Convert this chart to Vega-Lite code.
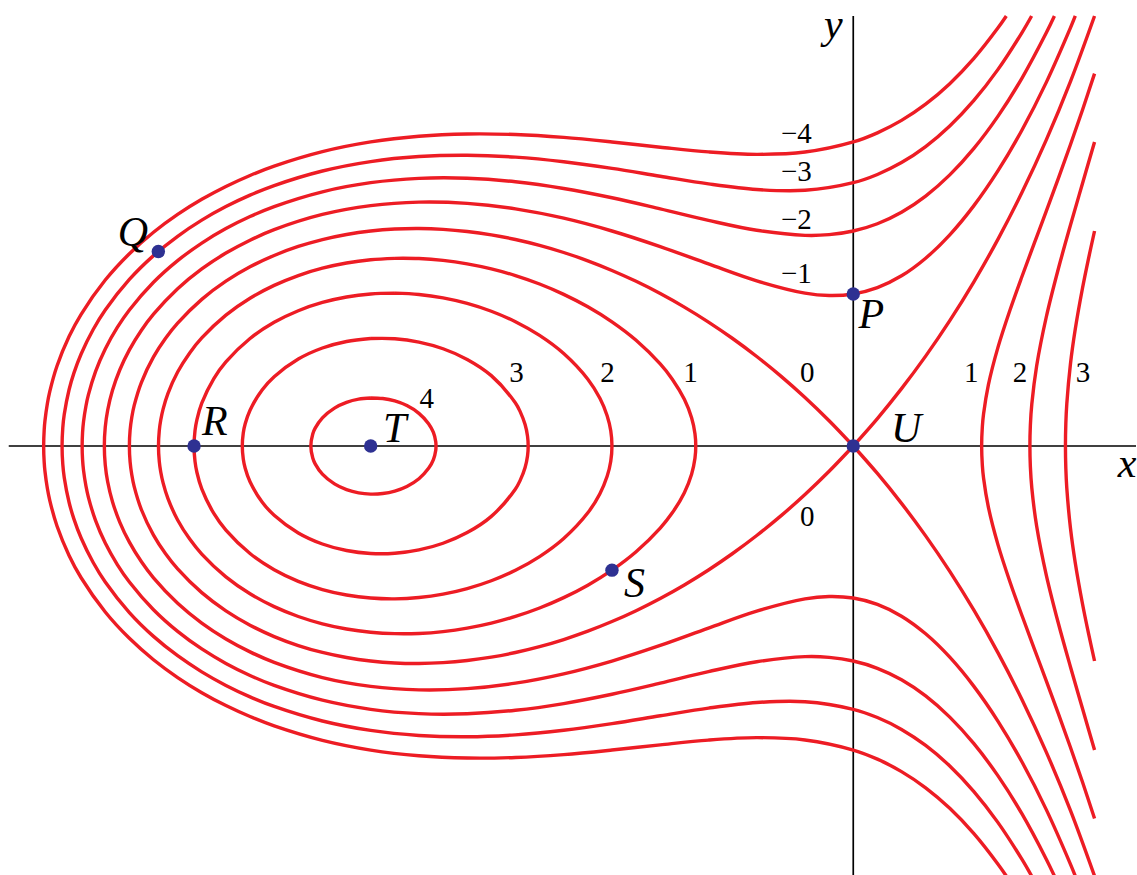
{
"$schema":"https://vega.github.io/schema/vega-lite/v6.json",
"width":1137,"height":875,
"autosize":{"type":"fit","contains":"padding"},
"padding":0,
"background":"white",
"config":{"view":{"stroke":null}},
"datasets":{
"ax":[{"x":-3.5,"x2":1.18,"y":0,"y2":0},{"x":0,"x2":0,"y":-2.0,"y2":2.0}],
"pts":[{"n":"P","x":0,"y":0.7071},{"n":"Q","x":-2.88,"y":0.9048},{"n":"R","x":-2.732,"y":0},{"n":"S","x":-1,"y":-0.5774},{"n":"T","x":-2,"y":0},{"n":"U","x":0,"y":0}],
"letters":[{"t":"Q","x":-2.9855,"y":0.9302},{"t":"R","x":-2.646,"y":0.0512},{"t":"T","x":-1.9006,"y":0.0186},{"t":"U","x":0.2195,"y":0.0186},{"t":"P","x":0.0745,"y":0.5488},{"t":"S","x":-0.9068,"y":-0.7023},{"t":"x","x":1.1346,"y":-0.1442},{"t":"y","x":-0.0828,"y":1.8977}],
"nums":[{"t":"4","x":-1.7681,"y":0.1767},{"t":"3","x":-1.3954,"y":0.2977},{"t":"2","x":-1.0186,"y":0.2977},{"t":"1","x":-0.6749,"y":0.2977},{"t":"0","x":-0.1905,"y":0.2977},{"t":"0","x":-0.1905,"y":-0.3721},{"t":"1","x":0.4886,"y":0.2977},{"t":"2","x":0.6915,"y":0.2977},{"t":"3","x":0.9524,"y":0.2977},{"t":"−4","x":-0.236,"y":1.4093},{"t":"−3","x":-0.236,"y":1.2326},{"t":"−2","x":-0.236,"y":1.0093},{"t":"−1","x":-0.236,"y":0.7581}],
"cv":[
{"c":"c38","i":0,"x":-2,"y":0.2236},{"c":"c38","i":1,"x":-1.95,"y":0.2208},{"c":"c38","i":2,"x":-1.9,"y":0.2094},{"c":"c38","i":3,"x":-1.85,"y":0.188},{"c":"c38","i":4,"x":-1.8,"y":0.152},{"c":"c38","i":5,"x":-1.76,"y":0.104},{"c":"c38","i":6,"x":-1.74,"y":0.063},{"c":"c38","i":7,"x":-1.7303,"y":0.0194},{"c":"c38","i":8,"x":-1.7293,"y":0},{"c":"c38","i":9,"x":-1.7303,"y":-0.0194},{"c":"c38","i":10,"x":-1.74,"y":-0.063},{"c":"c38","i":11,"x":-1.76,"y":-0.104},{"c":"c38","i":12,"x":-1.8,"y":-0.152},{"c":"c38","i":13,"x":-1.85,"y":-0.188},{"c":"c38","i":14,"x":-1.9,"y":-0.2094},{"c":"c38","i":15,"x":-1.95,"y":-0.2208},{"c":"c38","i":16,"x":-2,"y":-0.2236},{"c":"c38","i":17,"x":-2.05,"y":-0.218},{"c":"c38","i":18,"x":-2.1,"y":-0.203},{"c":"c38","i":19,"x":-2.15,"y":-0.1764},{"c":"c38","i":20,"x":-2.2,"y":-0.131},{"c":"c38","i":21,"x":-2.23,"y":-0.083},{"c":"c38","i":22,"x":-2.24,"y":-0.056},{"c":"c38","i":23,"x":-2.248,"y":0},{"c":"c38","i":24,"x":-2.24,"y":0.056},{"c":"c38","i":25,"x":-2.23,"y":0.083},{"c":"c38","i":26,"x":-2.2,"y":0.131},{"c":"c38","i":27,"x":-2.15,"y":0.1764},{"c":"c38","i":28,"x":-2.1,"y":0.203},{"c":"c38","i":29,"x":-2.05,"y":0.218},{"c":"c38","i":30,"x":-2,"y":0.2236},

{"c":"c3","i":0,"x":-2,"y":0.5},{"c":"c3","i":1,"x":-1.9,"y":0.499},{"c":"c3","i":2,"x":-1.8,"y":0.4834},{"c":"c3","i":3,"x":-1.7,"y":0.4523},{"c":"c3","i":4,"x":-1.6,"y":0.4028},{"c":"c3","i":5,"x":-1.5,"y":0.3273},{"c":"c3","i":6,"x":-1.4,"y":0.2},{"c":"c3","i":7,"x":-1.38,"y":0.1587},{"c":"c3","i":8,"x":-1.36,"y":0.0996},{"c":"c3","i":9,"x":-1.35,"y":0.046},{"c":"c3","i":10,"x":-1.3472,"y":0},{"c":"c3","i":11,"x":-1.35,"y":-0.046},{"c":"c3","i":12,"x":-1.36,"y":-0.0996},{"c":"c3","i":13,"x":-1.38,"y":-0.1587},{"c":"c3","i":14,"x":-1.4,"y":-0.2},{"c":"c3","i":15,"x":-1.5,"y":-0.3273},{"c":"c3","i":16,"x":-1.6,"y":-0.4028},{"c":"c3","i":17,"x":-1.7,"y":-0.4523},{"c":"c3","i":18,"x":-1.8,"y":-0.4834},{"c":"c3","i":19,"x":-1.9,"y":-0.499},{"c":"c3","i":20,"x":-2,"y":-0.5},{"c":"c3","i":21,"x":-2.1,"y":-0.4861},{"c":"c3","i":22,"x":-2.2,"y":-0.4557},{"c":"c3","i":23,"x":-2.3,"y":-0.4043},{"c":"c3","i":24,"x":-2.4,"y":-0.3219},{"c":"c3","i":25,"x":-2.45,"y":-0.2603},{"c":"c3","i":26,"x":-2.5,"y":-0.1667},{"c":"c3","i":27,"x":-2.52,"y":-0.1033},{"c":"c3","i":28,"x":-2.528,"y":-0.0604},{"c":"c3","i":29,"x":-2.532,"y":0},{"c":"c3","i":30,"x":-2.528,"y":0.0604},{"c":"c3","i":31,"x":-2.52,"y":0.1033},{"c":"c3","i":32,"x":-2.5,"y":0.1667},{"c":"c3","i":33,"x":-2.45,"y":0.2603},{"c":"c3","i":34,"x":-2.4,"y":0.3219},{"c":"c3","i":35,"x":-2.3,"y":0.4043},{"c":"c3","i":36,"x":-2.2,"y":0.4557},{"c":"c3","i":37,"x":-2.1,"y":0.4861},{"c":"c3","i":38,"x":-2,"y":0.5},

{"c":"c2","i":0,"x":-1.9,"y":0.7109},{"c":"c2","i":1,"x":-1.8,"y":0.7049},{"c":"c2","i":2,"x":-1.7,"y":0.6891},{"c":"c2","i":3,"x":-1.6,"y":0.6633},{"c":"c2","i":4,"x":-1.5,"y":0.6268},{"c":"c2","i":5,"x":-1.4,"y":0.578},{"c":"c2","i":6,"x":-1.3,"y":0.5143},{"c":"c2","i":7,"x":-1.2,"y":0.4301},{"c":"c2","i":8,"x":-1.1,"y":0.3106},{"c":"c2","i":9,"x":-1.05,"y":0.2217},{"c":"c2","i":10,"x":-1.02,"y":0.141},{"c":"c2","i":11,"x":-1.005,"y":0.0707},{"c":"c2","i":12,"x":-1,"y":0},{"c":"c2","i":13,"x":-1.005,"y":-0.0707},{"c":"c2","i":14,"x":-1.02,"y":-0.141},{"c":"c2","i":15,"x":-1.05,"y":-0.2217},{"c":"c2","i":16,"x":-1.1,"y":-0.3106},{"c":"c2","i":17,"x":-1.2,"y":-0.4301},{"c":"c2","i":18,"x":-1.3,"y":-0.5143},{"c":"c2","i":19,"x":-1.4,"y":-0.578},{"c":"c2","i":20,"x":-1.5,"y":-0.6268},{"c":"c2","i":21,"x":-1.6,"y":-0.6633},{"c":"c2","i":22,"x":-1.7,"y":-0.6891},{"c":"c2","i":23,"x":-1.8,"y":-0.7049},{"c":"c2","i":24,"x":-1.9,"y":-0.7109},{"c":"c2","i":25,"x":-2,"y":-0.7071},{"c":"c2","i":26,"x":-2.1,"y":-0.693},{"c":"c2","i":27,"x":-2.2,"y":-0.6676},{"c":"c2","i":28,"x":-2.3,"y":-0.6293},{"c":"c2","i":29,"x":-2.4,"y":-0.5753},{"c":"c2","i":30,"x":-2.5,"y":-0.5},{"c":"c2","i":31,"x":-2.6,"y":-0.3912},{"c":"c2","i":32,"x":-2.65,"y":-0.3138},{"c":"c2","i":33,"x":-2.7,"y":-0.1995},{"c":"c2","i":34,"x":-2.72,"y":-0.1232},{"c":"c2","i":35,"x":-2.728,"y":-0.0716},{"c":"c2","i":36,"x":-2.732,"y":0},{"c":"c2","i":37,"x":-2.728,"y":0.0716},{"c":"c2","i":38,"x":-2.72,"y":0.1232},{"c":"c2","i":39,"x":-2.7,"y":0.1995},{"c":"c2","i":40,"x":-2.65,"y":0.3138},{"c":"c2","i":41,"x":-2.6,"y":0.3912},{"c":"c2","i":42,"x":-2.5,"y":0.5},{"c":"c2","i":43,"x":-2.4,"y":0.5753},{"c":"c2","i":44,"x":-2.3,"y":0.6293},{"c":"c2","i":45,"x":-2.2,"y":0.6676},{"c":"c2","i":46,"x":-2.1,"y":0.693},{"c":"c2","i":47,"x":-2,"y":0.7071},{"c":"c2","i":48,"x":-1.9,"y":0.7109},

{"c":"c1","i":0,"x":-1.9,"y":0.8728},{"c":"c1","i":1,"x":-1.8,"y":0.8718},{"c":"c1","i":2,"x":-1.7,"y":0.8632},{"c":"c1","i":3,"x":-1.6,"y":0.8472},{"c":"c1","i":4,"x":-1.5,"y":0.8238},{"c":"c1","i":5,"x":-1.4,"y":0.7926},{"c":"c1","i":6,"x":-1.3,"y":0.7534},{"c":"c1","i":7,"x":-1.2,"y":0.7053},{"c":"c1","i":8,"x":-1.1,"y":0.6473},{"c":"c1","i":9,"x":-1,"y":0.5774},{"c":"c1","i":10,"x":-0.9,"y":0.4917},{"c":"c1","i":11,"x":-0.8,"y":0.3817},{"c":"c1","i":12,"x":-0.75,"y":0.3108},{"c":"c1","i":13,"x":-0.7,"y":0.2169},{"c":"c1","i":14,"x":-0.67,"y":0.1311},{"c":"c1","i":15,"x":-0.656,"y":0.0573},{"c":"c1","i":16,"x":-0.6527,"y":0},{"c":"c1","i":17,"x":-0.656,"y":-0.0573},{"c":"c1","i":18,"x":-0.67,"y":-0.1311},{"c":"c1","i":19,"x":-0.7,"y":-0.2169},{"c":"c1","i":20,"x":-0.75,"y":-0.3108},{"c":"c1","i":21,"x":-0.8,"y":-0.3817},{"c":"c1","i":22,"x":-0.9,"y":-0.4917},{"c":"c1","i":23,"x":-1,"y":-0.5774},{"c":"c1","i":24,"x":-1.1,"y":-0.6473},{"c":"c1","i":25,"x":-1.2,"y":-0.7053},{"c":"c1","i":26,"x":-1.3,"y":-0.7534},{"c":"c1","i":27,"x":-1.4,"y":-0.7926},{"c":"c1","i":28,"x":-1.5,"y":-0.8238},{"c":"c1","i":29,"x":-1.6,"y":-0.8472},{"c":"c1","i":30,"x":-1.7,"y":-0.8632},{"c":"c1","i":31,"x":-1.8,"y":-0.8718},{"c":"c1","i":32,"x":-1.9,"y":-0.8728},{"c":"c1","i":33,"x":-2,"y":-0.866},{"c":"c1","i":34,"x":-2.1,"y":-0.851},{"c":"c1","i":35,"x":-2.2,"y":-0.8269},{"c":"c1","i":36,"x":-2.3,"y":-0.7929},{"c":"c1","i":37,"x":-2.4,"y":-0.7471},{"c":"c1","i":38,"x":-2.5,"y":-0.6872},{"c":"c1","i":39,"x":-2.6,"y":-0.6086},{"c":"c1","i":40,"x":-2.7,"y":-0.5026},{"c":"c1","i":41,"x":-2.75,"y":-0.433},{"c":"c1","i":42,"x":-2.8,"y":-0.344},{"c":"c1","i":43,"x":-2.84,"y":-0.245},{"c":"c1","i":44,"x":-2.86,"y":-0.1728},{"c":"c1","i":45,"x":-2.87,"y":-0.1206},{"c":"c1","i":46,"x":-2.876,"y":-0.0725},{"c":"c1","i":47,"x":-2.8794,"y":0},{"c":"c1","i":48,"x":-2.876,"y":0.0725},{"c":"c1","i":49,"x":-2.87,"y":0.1206},{"c":"c1","i":50,"x":-2.86,"y":0.1728},{"c":"c1","i":51,"x":-2.84,"y":0.245},{"c":"c1","i":52,"x":-2.8,"y":0.344},{"c":"c1","i":53,"x":-2.75,"y":0.433},{"c":"c1","i":54,"x":-2.7,"y":0.5026},{"c":"c1","i":55,"x":-2.6,"y":0.6086},{"c":"c1","i":56,"x":-2.5,"y":0.6872},{"c":"c1","i":57,"x":-2.4,"y":0.7471},{"c":"c1","i":58,"x":-2.3,"y":0.7929},{"c":"c1","i":59,"x":-2.2,"y":0.8269},{"c":"c1","i":60,"x":-2.1,"y":0.851},{"c":"c1","i":61,"x":-2,"y":0.866},{"c":"c1","i":62,"x":-1.9,"y":0.8728},

{"c":"c0","i":0,"x":0,"y":0},{"c":"c0","i":1,"x":-0.1,"y":0.1175},{"c":"c0","i":2,"x":-0.2,"y":0.2256},{"c":"c0","i":3,"x":-0.3,"y":0.3251},{"c":"c0","i":4,"x":-0.4,"y":0.4163},{"c":"c0","i":5,"x":-0.5,"y":0.5},{"c":"c0","i":6,"x":-0.6,"y":0.5765},{"c":"c0","i":7,"x":-0.7,"y":0.6461},{"c":"c0","i":8,"x":-0.8,"y":0.7091},{"c":"c0","i":9,"x":-0.9,"y":0.7659},{"c":"c0","i":10,"x":-1,"y":0.8165},{"c":"c0","i":11,"x":-1.1,"y":0.8612},{"c":"c0","i":12,"x":-1.2,"y":0.9},{"c":"c0","i":13,"x":-1.3,"y":0.9331},{"c":"c0","i":14,"x":-1.4,"y":0.9604},{"c":"c0","i":15,"x":-1.5,"y":0.982},{"c":"c0","i":16,"x":-1.6,"y":0.9978},{"c":"c0","i":17,"x":-1.7,"y":1.0077},{"c":"c0","i":18,"x":-1.8,"y":1.0115},{"c":"c0","i":19,"x":-1.9,"y":1.0091},{"c":"c0","i":20,"x":-2,"y":1},{"c":"c0","i":21,"x":-2.1,"y":0.9839},{"c":"c0","i":22,"x":-2.2,"y":0.9602},{"c":"c0","i":23,"x":-2.3,"y":0.928},{"c":"c0","i":24,"x":-2.4,"y":0.8863},{"c":"c0","i":25,"x":-2.5,"y":0.8333},{"c":"c0","i":26,"x":-2.6,"y":0.7667},{"c":"c0","i":27,"x":-2.7,"y":0.6821},{"c":"c0","i":28,"x":-2.8,"y":0.5716},{"c":"c0","i":29,"x":-2.85,"y":0.5012},{"c":"c0","i":30,"x":-2.9,"y":0.4143},{"c":"c0","i":31,"x":-2.95,"y":0.2965},{"c":"c0","i":32,"x":-2.98,"y":0.1889},{"c":"c0","i":33,"x":-2.99,"y":0.1339},{"c":"c0","i":34,"x":-2.997,"y":0.0734},{"c":"c0","i":35,"x":-3,"y":0},{"c":"c0","i":36,"x":-2.997,"y":-0.0734},{"c":"c0","i":37,"x":-2.99,"y":-0.1339},{"c":"c0","i":38,"x":-2.98,"y":-0.1889},{"c":"c0","i":39,"x":-2.95,"y":-0.2965},{"c":"c0","i":40,"x":-2.9,"y":-0.4143},{"c":"c0","i":41,"x":-2.85,"y":-0.5012},{"c":"c0","i":42,"x":-2.8,"y":-0.5716},{"c":"c0","i":43,"x":-2.7,"y":-0.6821},{"c":"c0","i":44,"x":-2.6,"y":-0.7667},{"c":"c0","i":45,"x":-2.5,"y":-0.8333},{"c":"c0","i":46,"x":-2.4,"y":-0.8863},{"c":"c0","i":47,"x":-2.3,"y":-0.928},{"c":"c0","i":48,"x":-2.2,"y":-0.9602},{"c":"c0","i":49,"x":-2.1,"y":-0.9839},{"c":"c0","i":50,"x":-2,"y":-1},{"c":"c0","i":51,"x":-1.9,"y":-1.0091},{"c":"c0","i":52,"x":-1.8,"y":-1.0115},{"c":"c0","i":53,"x":-1.7,"y":-1.0077},{"c":"c0","i":54,"x":-1.6,"y":-0.9978},{"c":"c0","i":55,"x":-1.5,"y":-0.982},{"c":"c0","i":56,"x":-1.4,"y":-0.9604},{"c":"c0","i":57,"x":-1.3,"y":-0.9331},{"c":"c0","i":58,"x":-1.2,"y":-0.9},{"c":"c0","i":59,"x":-1.1,"y":-0.8612},{"c":"c0","i":60,"x":-1,"y":-0.8165},{"c":"c0","i":61,"x":-0.9,"y":-0.7659},{"c":"c0","i":62,"x":-0.8,"y":-0.7091},{"c":"c0","i":63,"x":-0.7,"y":-0.6461},{"c":"c0","i":64,"x":-0.6,"y":-0.5765},{"c":"c0","i":65,"x":-0.5,"y":-0.5},{"c":"c0","i":66,"x":-0.4,"y":-0.4163},{"c":"c0","i":67,"x":-0.3,"y":-0.3251},{"c":"c0","i":68,"x":-0.2,"y":-0.2256},{"c":"c0","i":69,"x":-0.1,"y":-0.1175},{"c":"c0","i":70,"x":0,"y":0},

{"c":"r0u","i":0,"x":0,"y":0},{"c":"r0u","i":1,"x":0.1,"y":0.1277},{"c":"r0u","i":2,"x":0.2,"y":0.2667},{"c":"r0u","i":3,"x":0.3,"y":0.418},{"c":"r0u","i":4,"x":0.4,"y":0.5831},{"c":"r0u","i":5,"x":0.5,"y":0.7638},{"c":"r0u","i":6,"x":0.6,"y":0.9621},{"c":"r0u","i":7,"x":0.7,"y":1.1809},{"c":"r0u","i":8,"x":0.8,"y":1.4236},{"c":"r0u","i":9,"x":0.9,"y":1.6947},{"c":"r0u","i":10,"x":1,"y":2},
{"c":"r0d","i":0,"x":0,"y":0},{"c":"r0d","i":1,"x":0.1,"y":-0.1277},{"c":"r0d","i":2,"x":0.2,"y":-0.2667},{"c":"r0d","i":3,"x":0.3,"y":-0.418},{"c":"r0d","i":4,"x":0.4,"y":-0.5831},{"c":"r0d","i":5,"x":0.5,"y":-0.7638},{"c":"r0d","i":6,"x":0.6,"y":-0.9621},{"c":"r0d","i":7,"x":0.7,"y":-1.1809},{"c":"r0d","i":8,"x":0.8,"y":-1.4236},{"c":"r0d","i":9,"x":0.9,"y":-1.6947},{"c":"r0d","i":10,"x":1,"y":-2},

{"c":"r1","i":0,"x":1,"y":1.7321},{"c":"r1","i":1,"x":0.95,"y":1.563},{"c":"r1","i":2,"x":0.9,"y":1.401},{"c":"r1","i":3,"x":0.85,"y":1.2447},{"c":"r1","i":4,"x":0.8,"y":1.0924},{"c":"r1","i":5,"x":0.75,"y":0.9421},{"c":"r1","i":6,"x":0.7,"y":0.7908},{"c":"r1","i":7,"x":0.65,"y":0.6337},{"c":"r1","i":8,"x":0.6,"y":0.4598},{"c":"r1","i":9,"x":0.56,"y":0.2843},{"c":"r1","i":10,"x":0.54,"y":0.1487},{"c":"r1","i":11,"x":0.535,"y":0.0898},{"c":"r1","i":12,"x":0.5321,"y":0},{"c":"r1","i":13,"x":0.535,"y":-0.0898},{"c":"r1","i":14,"x":0.54,"y":-0.1487},{"c":"r1","i":15,"x":0.56,"y":-0.2843},{"c":"r1","i":16,"x":0.6,"y":-0.4598},{"c":"r1","i":17,"x":0.65,"y":-0.6337},{"c":"r1","i":18,"x":0.7,"y":-0.7908},{"c":"r1","i":19,"x":0.75,"y":-0.9421},{"c":"r1","i":20,"x":0.8,"y":-1.0924},{"c":"r1","i":21,"x":0.85,"y":-1.2447},{"c":"r1","i":22,"x":0.9,"y":-1.401},{"c":"r1","i":23,"x":0.95,"y":-1.563},{"c":"r1","i":24,"x":1,"y":-1.7321},

{"c":"r2","i":0,"x":1,"y":1.4142},{"c":"r2","i":1,"x":0.95,"y":1.2208},{"c":"r2","i":2,"x":0.9,"y":1.0265},{"c":"r2","i":3,"x":0.85,"y":0.8244},{"c":"r2","i":4,"x":0.8,"y":0.6},{"c":"r2","i":5,"x":0.76,"y":0.3722},{"c":"r2","i":6,"x":0.74,"y":0.1952},{"c":"r2","i":7,"x":0.734,"y":0.0962},{"c":"r2","i":8,"x":0.7321,"y":0},{"c":"r2","i":9,"x":0.734,"y":-0.0962},{"c":"r2","i":10,"x":0.74,"y":-0.1952},{"c":"r2","i":11,"x":0.76,"y":-0.3722},{"c":"r2","i":12,"x":0.8,"y":-0.6},{"c":"r2","i":13,"x":0.85,"y":-0.8244},{"c":"r2","i":14,"x":0.9,"y":-1.0265},{"c":"r2","i":15,"x":0.95,"y":-1.2208},{"c":"r2","i":16,"x":1,"y":-1.4142},

{"c":"r3","i":0,"x":1,"y":1},{"c":"r3","i":1,"x":0.975,"y":0.8716},{"c":"r3","i":2,"x":0.95,"y":0.7335},{"c":"r3","i":3,"x":0.92,"y":0.5426},{"c":"r3","i":4,"x":0.9,"y":0.3802},{"c":"r3","i":5,"x":0.885,"y":0.1959},{"c":"r3","i":6,"x":0.881,"y":0.1048},{"c":"r3","i":7,"x":0.8794,"y":0},{"c":"r3","i":8,"x":0.881,"y":-0.1048},{"c":"r3","i":9,"x":0.885,"y":-0.1959},{"c":"r3","i":10,"x":0.9,"y":-0.3802},{"c":"r3","i":11,"x":0.92,"y":-0.5426},{"c":"r3","i":12,"x":0.95,"y":-0.7335},{"c":"r3","i":13,"x":0.975,"y":-0.8716},{"c":"r3","i":14,"x":1,"y":-1},

{"c":"m1","i":0,"x":0.9202,"y":2},{"c":"m1","i":1,"x":0.9,"y":1.9445},{"c":"m1","i":2,"x":0.8,"y":1.6912},{"c":"m1","i":3,"x":0.7,"y":1.471},{"c":"m1","i":4,"x":0.6,"y":1.2806},{"c":"m1","i":5,"x":0.5,"y":1.118},{"c":"m1","i":6,"x":0.4,"y":0.9823},{"c":"m1","i":7,"x":0.3,"y":0.8735},{"c":"m1","i":8,"x":0.2,"y":0.7916},{"c":"m1","i":9,"x":0.1,"y":0.7366},{"c":"m1","i":10,"x":0,"y":0.7071},{"c":"m1","i":11,"x":-0.1,"y":0.7},{"c":"m1","i":12,"x":-0.2,"y":0.711},{"c":"m1","i":13,"x":-0.4,"y":0.7681},{"c":"m1","i":14,"x":-0.6,"y":0.8467},{"c":"m1","i":15,"x":-0.8,"y":0.9274},{"c":"m1","i":16,"x":-1,"y":1},{"c":"m1","i":17,"x":-1.2,"y":1.0595},{"c":"m1","i":18,"x":-1.4,"y":1.1029},{"c":"m1","i":19,"x":-1.6,"y":1.1284},{"c":"m1","i":20,"x":-1.8,"y":1.1342},{"c":"m1","i":21,"x":-2,"y":1.118},{"c":"m1","i":22,"x":-2.2,"y":1.077},{"c":"m1","i":23,"x":-2.4,"y":1.0063},{"c":"m1","i":24,"x":-2.5,"y":0.9574},{"c":"m1","i":25,"x":-2.6,"y":0.8973},{"c":"m1","i":26,"x":-2.7,"y":0.8235},{"c":"m1","i":27,"x":-2.8,"y":0.7314},{"c":"m1","i":28,"x":-2.9,"y":0.613},{"c":"m1","i":29,"x":-2.95,"y":0.5385},{"c":"m1","i":30,"x":-3,"y":0.4472},{"c":"m1","i":31,"x":-3.04,"y":0.3536},{"c":"m1","i":32,"x":-3.07,"y":0.2591},{"c":"m1","i":33,"x":-3.09,"y":0.1663},{"c":"m1","i":34,"x":-3.1,"y":0.0874},{"c":"m1","i":35,"x":-3.1038,"y":0},{"c":"m1","i":36,"x":-3.1,"y":-0.0874},{"c":"m1","i":37,"x":-3.09,"y":-0.1663},{"c":"m1","i":38,"x":-3.07,"y":-0.2591},{"c":"m1","i":39,"x":-3.04,"y":-0.3536},{"c":"m1","i":40,"x":-3,"y":-0.4472},{"c":"m1","i":41,"x":-2.95,"y":-0.5385},{"c":"m1","i":42,"x":-2.9,"y":-0.613},{"c":"m1","i":43,"x":-2.8,"y":-0.7314},{"c":"m1","i":44,"x":-2.7,"y":-0.8235},{"c":"m1","i":45,"x":-2.6,"y":-0.8973},{"c":"m1","i":46,"x":-2.5,"y":-0.9574},{"c":"m1","i":47,"x":-2.4,"y":-1.0063},{"c":"m1","i":48,"x":-2.2,"y":-1.077},{"c":"m1","i":49,"x":-2,"y":-1.118},{"c":"m1","i":50,"x":-1.8,"y":-1.1342},{"c":"m1","i":51,"x":-1.6,"y":-1.1284},{"c":"m1","i":52,"x":-1.4,"y":-1.1029},{"c":"m1","i":53,"x":-1.2,"y":-1.0595},{"c":"m1","i":54,"x":-1,"y":-1},{"c":"m1","i":55,"x":-0.8,"y":-0.9274},{"c":"m1","i":56,"x":-0.6,"y":-0.8467},{"c":"m1","i":57,"x":-0.4,"y":-0.7681},{"c":"m1","i":58,"x":-0.2,"y":-0.711},{"c":"m1","i":59,"x":-0.1,"y":-0.7},{"c":"m1","i":60,"x":0,"y":-0.7071},{"c":"m1","i":61,"x":0.1,"y":-0.7366},{"c":"m1","i":62,"x":0.2,"y":-0.7916},{"c":"m1","i":63,"x":0.3,"y":-0.8735},{"c":"m1","i":64,"x":0.4,"y":-0.9823},{"c":"m1","i":65,"x":0.5,"y":-1.118},{"c":"m1","i":66,"x":0.6,"y":-1.2806},{"c":"m1","i":67,"x":0.7,"y":-1.471},{"c":"m1","i":68,"x":0.8,"y":-1.6912},{"c":"m1","i":69,"x":0.9,"y":-1.9445},{"c":"m1","i":70,"x":0.9202,"y":-2},

{"c":"m2","i":0,"x":0.8337,"y":2},{"c":"m2","i":1,"x":0.8,"y":1.9218},{"c":"m2","i":2,"x":0.7,"y":1.7126},{"c":"m2","i":3,"x":0.6,"y":1.5344},{"c":"m2","i":4,"x":0.5,"y":1.3844},{"c":"m2","i":5,"x":0.4,"y":1.261},{"c":"m2","i":6,"x":0.3,"y":1.1624},{"c":"m2","i":7,"x":0.2,"y":1.0873},{"c":"m2","i":8,"x":0.1,"y":1.0339},{"c":"m2","i":9,"x":0,"y":1},{"c":"m2","i":10,"x":-0.1,"y":0.983},{"c":"m2","i":11,"x":-0.2,"y":0.9798},{"c":"m2","i":12,"x":-0.4,"y":1.0033},{"c":"m2","i":13,"x":-0.6,"y":1.0495},{"c":"m2","i":14,"x":-0.8,"y":1.1032},{"c":"m2","i":15,"x":-1,"y":1.1547},{"c":"m2","i":16,"x":-1.2,"y":1.1979},{"c":"m2","i":17,"x":-1.4,"y":1.2291},{"c":"m2","i":18,"x":-1.6,"y":1.2454},{"c":"m2","i":19,"x":-1.8,"y":1.2448},{"c":"m2","i":20,"x":-2,"y":1.2247},{"c":"m2","i":21,"x":-2.2,"y":1.1824},{"c":"m2","i":22,"x":-2.4,"y":1.1136},{"c":"m2","i":23,"x":-2.5,"y":1.0672},{"c":"m2","i":24,"x":-2.6,"y":1.0112},{"c":"m2","i":25,"x":-2.7,"y":0.9439},{"c":"m2","i":26,"x":-2.8,"y":0.8622},{"c":"m2","i":27,"x":-2.9,"y":0.7615},{"c":"m2","i":28,"x":-3,"y":0.6325},{"c":"m2","i":29,"x":-3.05,"y":0.5513},{"c":"m2","i":30,"x":-3.1,"y":0.4514},{"c":"m2","i":31,"x":-3.14,"y":0.3472},{"c":"m2","i":32,"x":-3.17,"y":0.2375},{"c":"m2","i":33,"x":-3.18,"y":0.1863},{"c":"m2","i":34,"x":-3.19,"y":0.1132},{"c":"m2","i":35,"x":-3.194,"y":0.0634},{"c":"m2","i":36,"x":-3.1958,"y":0},{"c":"m2","i":37,"x":-3.194,"y":-0.0634},{"c":"m2","i":38,"x":-3.19,"y":-0.1132},{"c":"m2","i":39,"x":-3.18,"y":-0.1863},{"c":"m2","i":40,"x":-3.17,"y":-0.2375},{"c":"m2","i":41,"x":-3.14,"y":-0.3472},{"c":"m2","i":42,"x":-3.1,"y":-0.4514},{"c":"m2","i":43,"x":-3.05,"y":-0.5513},{"c":"m2","i":44,"x":-3,"y":-0.6325},{"c":"m2","i":45,"x":-2.9,"y":-0.7615},{"c":"m2","i":46,"x":-2.8,"y":-0.8622},{"c":"m2","i":47,"x":-2.7,"y":-0.9439},{"c":"m2","i":48,"x":-2.6,"y":-1.0112},{"c":"m2","i":49,"x":-2.5,"y":-1.0672},{"c":"m2","i":50,"x":-2.4,"y":-1.1136},{"c":"m2","i":51,"x":-2.2,"y":-1.1824},{"c":"m2","i":52,"x":-2,"y":-1.2247},{"c":"m2","i":53,"x":-1.8,"y":-1.2448},{"c":"m2","i":54,"x":-1.6,"y":-1.2454},{"c":"m2","i":55,"x":-1.4,"y":-1.2291},{"c":"m2","i":56,"x":-1.2,"y":-1.1979},{"c":"m2","i":57,"x":-1,"y":-1.1547},{"c":"m2","i":58,"x":-0.8,"y":-1.1032},{"c":"m2","i":59,"x":-0.6,"y":-1.0495},{"c":"m2","i":60,"x":-0.4,"y":-1.0033},{"c":"m2","i":61,"x":-0.2,"y":-0.9798},{"c":"m2","i":62,"x":-0.1,"y":-0.983},{"c":"m2","i":63,"x":0,"y":-1},{"c":"m2","i":64,"x":0.1,"y":-1.0339},{"c":"m2","i":65,"x":0.2,"y":-1.0873},{"c":"m2","i":66,"x":0.3,"y":-1.1624},{"c":"m2","i":67,"x":0.4,"y":-1.261},{"c":"m2","i":68,"x":0.5,"y":-1.3844},{"c":"m2","i":69,"x":0.6,"y":-1.5344},{"c":"m2","i":70,"x":0.7,"y":-1.7126},{"c":"m2","i":71,"x":0.8,"y":-1.9218},{"c":"m2","i":72,"x":0.8337,"y":-2},

{"c":"m3","i":0,"x":0.7392,"y":2},{"c":"m3","i":1,"x":0.7,"y":1.9242},{"c":"m3","i":2,"x":0.6,"y":1.7517},{"c":"m3","i":3,"x":0.5,"y":1.6073},{"c":"m3","i":4,"x":0.4,"y":1.4883},{"c":"m3","i":5,"x":0.3,"y":1.3926},{"c":"m3","i":6,"x":0.2,"y":1.3182},{"c":"m3","i":7,"x":0.1,"y":1.263},{"c":"m3","i":8,"x":0,"y":1.2247},{"c":"m3","i":9,"x":-0.2,"y":1.1893},{"c":"m3","i":10,"x":-0.4,"y":1.193},{"c":"m3","i":11,"x":-0.6,"y":1.2191},{"c":"m3","i":12,"x":-0.8,"y":1.2547},{"c":"m3","i":13,"x":-1,"y":1.291},{"c":"m3","i":14,"x":-1.2,"y":1.3219},{"c":"m3","i":15,"x":-1.4,"y":1.3434},{"c":"m3","i":16,"x":-1.6,"y":1.3524},{"c":"m3","i":17,"x":-1.8,"y":1.3463},{"c":"m3","i":18,"x":-2,"y":1.3229},{"c":"m3","i":19,"x":-2.2,"y":1.2791},{"c":"m3","i":20,"x":-2.4,"y":1.2113},{"c":"m3","i":21,"x":-2.5,"y":1.1667},{"c":"m3","i":22,"x":-2.6,"y":1.1136},{"c":"m3","i":23,"x":-2.7,"y":1.0505},{"c":"m3","i":24,"x":-2.8,"y":0.9755},{"c":"m3","i":25,"x":-2.9,"y":0.8854},{"c":"m3","i":26,"x":-3,"y":0.7746},{"c":"m3","i":27,"x":-3.1,"y":0.6323},{"c":"m3","i":28,"x":-3.15,"y":0.5418},{"c":"m3","i":29,"x":-3.2,"y":0.4279},{"c":"m3","i":30,"x":-3.23,"y":0.3388},{"c":"m3","i":31,"x":-3.25,"y":0.2616},{"c":"m3","i":32,"x":-3.27,"y":0.1464},{"c":"m3","i":33,"x":-3.276,"y":0.0848},{"c":"m3","i":34,"x":-3.279,"y":0},{"c":"m3","i":35,"x":-3.276,"y":-0.0848},{"c":"m3","i":36,"x":-3.27,"y":-0.1464},{"c":"m3","i":37,"x":-3.25,"y":-0.2616},{"c":"m3","i":38,"x":-3.23,"y":-0.3388},{"c":"m3","i":39,"x":-3.2,"y":-0.4279},{"c":"m3","i":40,"x":-3.15,"y":-0.5418},{"c":"m3","i":41,"x":-3.1,"y":-0.6323},{"c":"m3","i":42,"x":-3,"y":-0.7746},{"c":"m3","i":43,"x":-2.9,"y":-0.8854},{"c":"m3","i":44,"x":-2.8,"y":-0.9755},{"c":"m3","i":45,"x":-2.7,"y":-1.0505},{"c":"m3","i":46,"x":-2.6,"y":-1.1136},{"c":"m3","i":47,"x":-2.5,"y":-1.1667},{"c":"m3","i":48,"x":-2.4,"y":-1.2113},{"c":"m3","i":49,"x":-2.2,"y":-1.2791},{"c":"m3","i":50,"x":-2,"y":-1.3229},{"c":"m3","i":51,"x":-1.8,"y":-1.3463},{"c":"m3","i":52,"x":-1.6,"y":-1.3524},{"c":"m3","i":53,"x":-1.4,"y":-1.3434},{"c":"m3","i":54,"x":-1.2,"y":-1.3219},{"c":"m3","i":55,"x":-1,"y":-1.291},{"c":"m3","i":56,"x":-0.8,"y":-1.2547},{"c":"m3","i":57,"x":-0.6,"y":-1.2191},{"c":"m3","i":58,"x":-0.4,"y":-1.193},{"c":"m3","i":59,"x":-0.2,"y":-1.1893},{"c":"m3","i":60,"x":0,"y":-1.2247},{"c":"m3","i":61,"x":0.1,"y":-1.263},{"c":"m3","i":62,"x":0.2,"y":-1.3182},{"c":"m3","i":63,"x":0.3,"y":-1.3926},{"c":"m3","i":64,"x":0.4,"y":-1.4883},{"c":"m3","i":65,"x":0.5,"y":-1.6073},{"c":"m3","i":66,"x":0.6,"y":-1.7517},{"c":"m3","i":67,"x":0.7,"y":-1.9242},{"c":"m3","i":68,"x":0.7392,"y":-2},

{"c":"m4","i":0,"x":0.6343,"y":2},{"c":"m4","i":1,"x":0.6,"y":1.945},{"c":"m4","i":2,"x":0.5,"y":1.8028},{"c":"m4","i":3,"x":0.4,"y":1.6852},{"c":"m4","i":4,"x":0.3,"y":1.5899},{"c":"m4","i":5,"x":0.2,"y":1.5144},{"c":"m4","i":6,"x":0.1,"y":1.4566},{"c":"m4","i":7,"x":0,"y":1.4142},{"c":"m4","i":8,"x":-0.2,"y":1.3672},{"c":"m4","i":9,"x":-0.4,"y":1.3565},{"c":"m4","i":10,"x":-0.6,"y":1.3678},{"c":"m4","i":11,"x":-0.8,"y":1.3898},{"c":"m4","i":12,"x":-1,"y":1.4142},{"c":"m4","i":13,"x":-1.2,"y":1.4353},{"c":"m4","i":14,"x":-1.4,"y":1.4487},{"c":"m4","i":15,"x":-1.6,"y":1.4514},{"c":"m4","i":16,"x":-1.8,"y":1.4408},{"c":"m4","i":17,"x":-2,"y":1.4142},{"c":"m4","i":18,"x":-2.2,"y":1.369},{"c":"m4","i":19,"x":-2.4,"y":1.3017},{"c":"m4","i":20,"x":-2.5,"y":1.2583},{"c":"m4","i":21,"x":-2.6,"y":1.2072},{"c":"m4","i":22,"x":-2.7,"y":1.1473},{"c":"m4","i":23,"x":-2.8,"y":1.077},{"c":"m4","i":24,"x":-2.9,"y":0.994},{"c":"m4","i":25,"x":-3,"y":0.8944},{"c":"m4","i":26,"x":-3.1,"y":0.7719},{"c":"m4","i":27,"x":-3.2,"y":0.6127},{"c":"m4","i":28,"x":-3.25,"y":0.5089},{"c":"m4","i":29,"x":-3.3,"y":0.3719},{"c":"m4","i":30,"x":-3.33,"y":0.2528},{"c":"m4","i":31,"x":-3.34,"y":0.1969},{"c":"m4","i":32,"x":-3.35,"y":0.1161},{"c":"m4","i":33,"x":-3.353,"y":0.0765},{"c":"m4","i":34,"x":-3.3553,"y":0},{"c":"m4","i":35,"x":-3.353,"y":-0.0765},{"c":"m4","i":36,"x":-3.35,"y":-0.1161},{"c":"m4","i":37,"x":-3.34,"y":-0.1969},{"c":"m4","i":38,"x":-3.33,"y":-0.2528},{"c":"m4","i":39,"x":-3.3,"y":-0.3719},{"c":"m4","i":40,"x":-3.25,"y":-0.5089},{"c":"m4","i":41,"x":-3.2,"y":-0.6127},{"c":"m4","i":42,"x":-3.1,"y":-0.7719},{"c":"m4","i":43,"x":-3,"y":-0.8944},{"c":"m4","i":44,"x":-2.9,"y":-0.994},{"c":"m4","i":45,"x":-2.8,"y":-1.077},{"c":"m4","i":46,"x":-2.7,"y":-1.1473},{"c":"m4","i":47,"x":-2.6,"y":-1.2072},{"c":"m4","i":48,"x":-2.5,"y":-1.2583},{"c":"m4","i":49,"x":-2.4,"y":-1.3017},{"c":"m4","i":50,"x":-2.2,"y":-1.369},{"c":"m4","i":51,"x":-2,"y":-1.4142},{"c":"m4","i":52,"x":-1.8,"y":-1.4408},{"c":"m4","i":53,"x":-1.6,"y":-1.4514},{"c":"m4","i":54,"x":-1.4,"y":-1.4487},{"c":"m4","i":55,"x":-1.2,"y":-1.4353},{"c":"m4","i":56,"x":-1,"y":-1.4142},{"c":"m4","i":57,"x":-0.8,"y":-1.3898},{"c":"m4","i":58,"x":-0.6,"y":-1.3678},{"c":"m4","i":59,"x":-0.4,"y":-1.3565},{"c":"m4","i":60,"x":-0.2,"y":-1.3672},{"c":"m4","i":61,"x":0,"y":-1.4142},{"c":"m4","i":62,"x":0.1,"y":-1.4566},{"c":"m4","i":63,"x":0.2,"y":-1.5144},{"c":"m4","i":64,"x":0.3,"y":-1.5899},{"c":"m4","i":65,"x":0.4,"y":-1.6852},{"c":"m4","i":66,"x":0.5,"y":-1.8028},{"c":"m4","i":67,"x":0.6,"y":-1.945},{"c":"m4","i":68,"x":0.6343,"y":-2}
]},
"layer":[
{"data":{"name":"ax"},"mark":{"type":"rule","color":"#000000","strokeWidth":1.7,"clip":true},
 "encoding":{"x":{"field":"x","type":"quantitative","scale":{"domain":[-3.5362,1.1718],"nice":false,"zero":false},"axis":null},"x2":{"field":"x2"},
 "y":{"field":"y","type":"quantitative","scale":{"domain":[-1.9953,2.0744],"nice":false,"zero":false},"axis":null},"y2":{"field":"y2"}}},
{"data":{"name":"cv"},"mark":{"type":"line","interpolate":"catmull-rom","color":"#ED1C24","strokeWidth":3.4,"clip":true},
 "encoding":{"x":{"field":"x","type":"quantitative","scale":{"domain":[-3.5362,1.1718],"nice":false,"zero":false},"axis":null},
 "y":{"field":"y","type":"quantitative","scale":{"domain":[-1.9953,2.0744],"nice":false,"zero":false},"axis":null},
 "detail":{"field":"c","type":"nominal"},"order":{"field":"i","type":"quantitative"}}},
{"data":{"name":"pts"},"mark":{"type":"circle","color":"#2E3192","size":180,"opacity":1},
 "encoding":{"x":{"field":"x","type":"quantitative","axis":null},"y":{"field":"y","type":"quantitative","axis":null}}},
{"data":{"name":"letters"},"mark":{"type":"text","font":"Liberation Serif","fontStyle":"italic","fontSize":42,"align":"center","baseline":"alphabetic","color":"#000000"},
 "encoding":{"x":{"field":"x","type":"quantitative","axis":null},"y":{"field":"y","type":"quantitative","axis":null},"text":{"field":"t"}}},
{"data":{"name":"nums"},"mark":{"type":"text","font":"Liberation Serif","fontSize":29,"align":"center","baseline":"alphabetic","color":"#000000"},
 "encoding":{"x":{"field":"x","type":"quantitative","axis":null},"y":{"field":"y","type":"quantitative","axis":null},"text":{"field":"t"}}}
]
}
